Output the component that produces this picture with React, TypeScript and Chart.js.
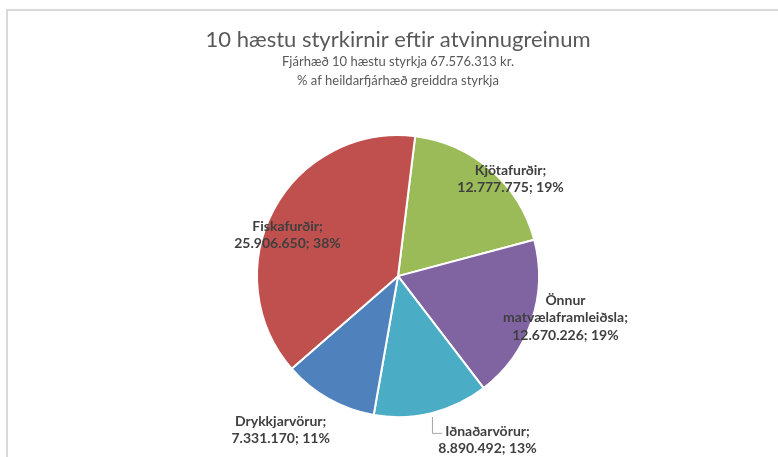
import React, { useEffect, useRef } from "react";
import { Chart, registerables } from "chart.js";

Chart.register(...registerables);

const categories = ["Kjötafurðir", "Önnur matvælaframleiðsla", "Iðnaðarvörur", "Drykkjarvörur", "Fiskafurðir"];
const amounts = [12777775, 12670226, 8890492, 7331170, 25906650];
const colors = ["#9BBB59", "#8064A2", "#4BACC6", "#4F81BD", "#C0504D"];
const titleText = "10 hæstu styrkirnir eftir atvinnugreinum";
const subtitleLines = ["Fjárhæð 10 hæstu styrkja 67.576.313 kr.", "% af heildarfjárhæð greiddra styrkja"];
// label offsets relative to the outer edge point at each slice's mid-angle
const labelOffsets: [number, number][] = [[20, 9], [34, -4], [56, 27], [-48, 31], [14, 25]];
const leaderLines = [false, false, true, false, false];

const LABEL_FONT = "bold 14px Lato";
const LABEL_LINE = 17.5;

function fmt(n: number): string {
  return String(n).replace(/\B(?=(\d{3})+(?!\d))/g, ".");
}

function wrapWords(ctx: CanvasRenderingContext2D, text: string, maxW: number): string[] {
  const words = text.split(" ");
  const lines: string[] = [];
  let cur = "";
  for (const w of words) {
    const test = cur ? cur + " " + w : w;
    if (cur && ctx.measureText(test).width > maxW) {
      lines.push(cur);
      cur = w;
    } else cur = test;
  }
  if (cur) lines.push(cur);
  return lines;
}

const labelPlugin = {
  id: "sliceLabels",
  afterDatasetsDraw(chart: any) {
    const ctx: CanvasRenderingContext2D = chart.ctx;
    const meta = chart.getDatasetMeta(0);
    const data = chart.data.datasets[0].data as number[];
    const total = data.reduce((a, b) => a + b, 0);
    ctx.save();
    ctx.font = LABEL_FONT;
    ctx.fillStyle = "#3F3F3F";
    ctx.textAlign = "center";
    ctx.textBaseline = "middle";
    meta.data.forEach((arc: any, i: number) => {
      const { x, y, startAngle, endAngle, outerRadius } = arc.getProps(["x", "y", "startAngle", "endAngle", "outerRadius"], true);
      const mid = (startAngle + endAngle) / 2;
      const px = x + Math.cos(mid) * outerRadius;
      const py = y + Math.sin(mid) * outerRadius;
      const cx = px + labelOffsets[i][0];
      const cy = py + labelOffsets[i][1];
      const pct = Math.round((data[i] / total) * 100);
      const lines = [...wrapWords(ctx, chart.data.labels[i] + ";", 120), fmt(data[i]) + "; " + pct + "%"];
      const startY = cy - ((lines.length - 1) * LABEL_LINE) / 2;
      lines.forEach((ln, k) => ctx.fillText(ln, cx, startY + k * LABEL_LINE));
      if (leaderLines[i]) {
        const w0 = ctx.measureText(lines[0]).width;
        const sx = x + Math.cos(mid) * (outerRadius + 4);
        const sy = y + Math.sin(mid) * (outerRadius + 4);
        const ly = startY + 2;
        ctx.beginPath();
        ctx.strokeStyle = "#A6A6A6";
        ctx.lineWidth = 1;
        ctx.moveTo(sx, sy);
        ctx.lineTo(sx, ly);
        ctx.lineTo(cx - w0 / 2 - 3, ly);
        ctx.stroke();
      }
    });
    ctx.restore();
  },
};

export default function App() {
  const ref = useRef<HTMLCanvasElement>(null);
  useEffect(() => {
    if (!ref.current) return;
    const chart = new Chart(ref.current, {
      type: "pie",
      data: {
        labels: categories,
        datasets: [
          {
            data: amounts,
            backgroundColor: colors,
            borderColor: "#ffffff",
            borderWidth: 2,
            radius: 141,
          } as any,
        ],
      },
      options: {
        responsive: false,
        animation: false,
        devicePixelRatio: 1,
        rotation: 7,
        layout: { padding: { left: 18, right: 0, top: 0, bottom: 5 } },
        plugins: {
          legend: { display: false },
          tooltip: { enabled: false },
          title: {
            display: true,
            text: titleText,
            color: "#595959",
            font: { family: "Lato", size: 22, weight: "normal", lineHeight: 1.15 },
            padding: { top: 27, bottom: 0 },
          },
          subtitle: {
            display: true,
            text: subtitleLines,
            color: "#595959",
            font: { family: "Lato", size: 13, weight: "normal", lineHeight: "19px" },
            padding: { top: 0, bottom: 10 },
          },
        },
      },
      plugins: [labelPlugin],
    });
    return () => chart.destroy();
  }, []);
  return (
    <div style={{ position: "absolute", left: 0, top: 0, width: 778, height: 457, overflow: "hidden", background: "#fff" }}>
      <div
        style={{
          position: "absolute",
          left: 6,
          top: 9,
          width: 820,
          height: 520,
          border: "2px solid #D9D9D9",
          boxSizing: "border-box",
        }}
      />
      <canvas ref={ref} width={778} height={457} style={{ position: "absolute", left: 0, top: 0 }} />
    </div>
  );
}
